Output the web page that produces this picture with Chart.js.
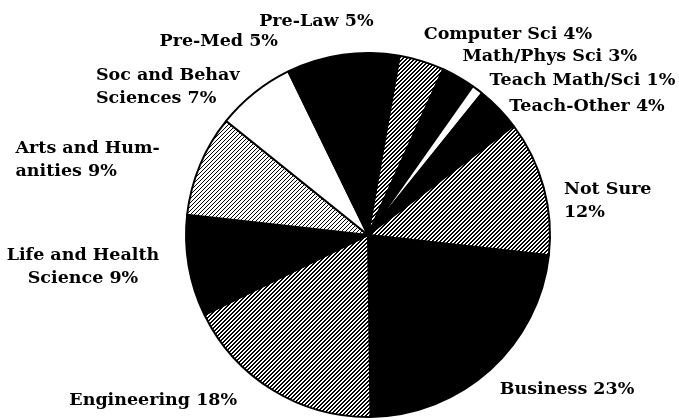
<!DOCTYPE html>
<html>
<head>
<meta charset="utf-8">
<script src="https://cdn.jsdelivr.net/npm/chart.js@4.4.1/dist/chart.umd.min.js"></script>
<style>
  html, body { margin: 0; padding: 0; background: #fff; }
  #wrap { width: 679px; height: 420px; }
</style>
</head>
<body>
<div id="wrap"><canvas id="grafico"></canvas></div>
<script>
// dados (ordem horaria a partir de Computer Sci)
var categorias = ['Computer Sci', 'Math/Phys Sci', 'Teach Math/Sci', 'Teach-Other', 'Not Sure|',
  'Business', 'Engineering', 'Life and Health|Science', 'Arts and Hum-|anities',
  'Soc and Behav|Sciences', 'Pre-Med', 'Pre-Law'];
var valores = [4, 3, 1, 4, 12, 23, 18, 9, 9, 7, 5, 5];
var preenchimento = ['hach', 'preto', 'branco', 'preto', 'hach', 'preto', 'hach', 'preto', 'claro', 'branco', 'preto', 'preto'];

// ajuste de cada rotulo: alinhamento, dx, dy
var ajusteRotulos = [
  ['left', -4, -8], ['left', -6, -3], ['left', 0, 7], ['left', -4, 12], ['left', 1, 7],
  ['left', -4, 5], ['right', -25, -7], ['center', -86, -14], ['left', -166, -9],
  ['left', -146, -2], ['right', -31, 0], ['right', 2, -12]
];

function hachura(escuro) {
  var c = document.createElement('canvas');
  c.width = 4; c.height = 4;
  var g = c.getContext('2d');
  g.fillStyle = '#fff';
  g.fillRect(0, 0, 4, 4);
  g.fillStyle = '#000';
  for (var x = 0; x < 4; x++) {
    for (var y = 0; y < 4; y++) {
      var k = (x + y) % 4;
      if (k === 0 || (escuro && k === 1)) g.fillRect(x, y, 1, 1);
    }
  }
  return g.createPattern(c, 'repeat');
}

var cores = preenchimento.map(function (p) {
  if (p === 'preto') return '#000';
  if (p === 'branco') return '#fff';
  if (p === 'claro') return hachura(false);
  return hachura(true);
});

var rotulosPlugin = {
  id: 'rotulos',
  afterDraw: function (chart) {
    var ctx = chart.ctx;
    var arcos = chart.getDatasetMeta(0).data;
    ctx.save();
    ctx.fillStyle = '#000';
    ctx.font = 'bold 17.5px "DejaVu Serif"';
    ctx.textBaseline = 'middle';
    arcos.forEach(function (a, i) {
      var meio = (a.startAngle + a.endAngle) / 2;
      var r = a.outerRadius + 20;
      var x = a.x + Math.cos(meio) * r + ajusteRotulos[i][1];
      var y = a.y + Math.sin(meio) * r + ajusteRotulos[i][2];
      var linhas = (categorias[i] + ' ' + valores[i] + '%').split('|');
      linhas = linhas.map(function (l) { return l.trim(); });
      if (linhas[0] === '') linhas.shift();
      ctx.textAlign = ajusteRotulos[i][0];
      linhas.forEach(function (l, j) {
        ctx.fillText(l, x, y + j * 23);
      });
    });
    ctx.restore();
  }
};

new Chart(document.getElementById('grafico'), {
  type: 'pie',
  data: {
    labels: categorias.map(function (c) { return c.replace('-|', '').replace('|', ' '); }),
    datasets: [{
      data: valores,
      backgroundColor: cores,
      borderColor: '#000',
      borderWidth: 2
    }]
  },
  options: {
    responsive: true,
    maintainAspectRatio: false,
    animation: false,
    rotation: 10,
    layout: { padding: { top: 52, bottom: 2, left: 185, right: 128 } },
    plugins: {
      legend: { display: false },
      tooltip: { enabled: false }
    }
  },
  plugins: [rotulosPlugin]
});
</script>
</body>
</html>
